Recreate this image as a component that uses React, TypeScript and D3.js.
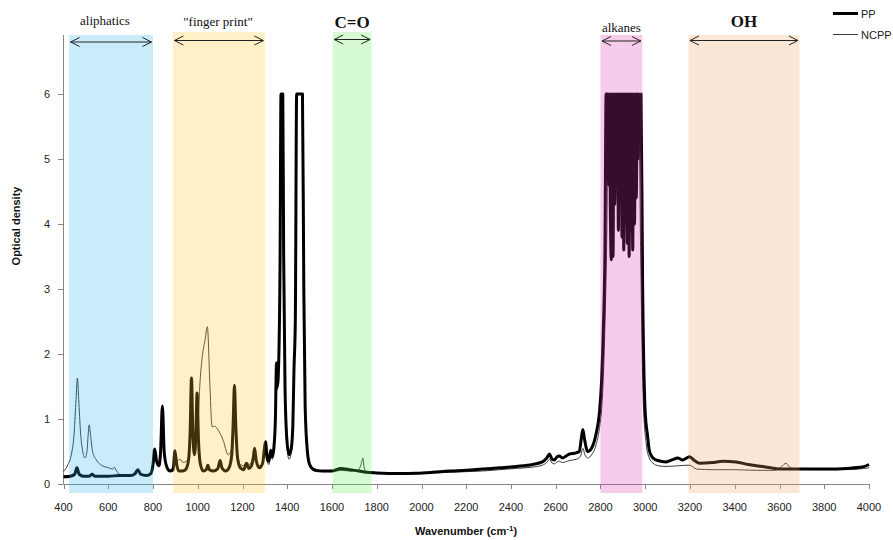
import * as d3 from "d3";
import { useEffect, useRef } from "react";

// wavenumber (cm-1), optical density
const ppSpectrum: [number, number][] = [
  [400, 0.11], [430, 0.12], [450, 0.15], [460, 0.25], [470, 0.15], [490, 0.12], [515, 0.12], [528, 0.15],
  [540, 0.12], [600, 0.12], [650, 0.13], [700, 0.13], [720, 0.16], [732, 0.22], [745, 0.15], [770, 0.13],
  [790, 0.16], [800, 0.3], [808, 0.54], [816, 0.35], [826, 0.28], [834, 0.5], [842, 1.2], [850, 0.5],
  [860, 0.28], [875, 0.2], [890, 0.22], [898, 0.51], [906, 0.3], [915, 0.2], [930, 0.2], [945, 0.22],
  [958, 0.35], [966, 0.8], [972, 1.63], [978, 0.8], [985, 0.45], [991, 0.7], [997, 1.4], [1003, 0.7],
  [1012, 0.3], [1025, 0.2], [1038, 0.22], [1045, 0.29], [1052, 0.22], [1070, 0.2], [1090, 0.24], [1100, 0.36],
  [1108, 0.25], [1125, 0.2], [1140, 0.25], [1152, 0.45], [1158, 0.9], [1164, 1.52], [1170, 0.9], [1178, 0.4],
  [1190, 0.25], [1205, 0.22], [1218, 0.32], [1228, 0.24], [1240, 0.28], [1248, 0.4], [1254, 0.55], [1262, 0.35],
  [1275, 0.25], [1290, 0.32], [1298, 0.55], [1303, 0.65], [1310, 0.4], [1318, 0.35], [1326, 0.52], [1333, 0.42],
  [1340, 0.55], [1347, 1.0], [1352, 1.86], [1356, 1.5], [1362, 1.9], [1368, 3.5], [1372, 6.0], [1380, 6.0],
  [1384, 3.5], [1390, 1.5], [1398, 0.7], [1408, 0.45], [1418, 0.55], [1425, 0.9], [1430, 1.75], [1436, 2.5],
  [1442, 6.0], [1468, 6.0], [1474, 3.0], [1480, 1.2], [1490, 0.5], [1500, 0.3], [1515, 0.23], [1530, 0.21],
  [1560, 0.2], [1600, 0.2], [1640, 0.24], [1680, 0.22], [1720, 0.2], [1753, 0.18], [1800, 0.17], [1900, 0.16],
  [1977, 0.165], [2050, 0.18], [2125, 0.2], [2200, 0.21], [2273, 0.23], [2350, 0.25], [2423, 0.27], [2497, 0.3],
  [2540, 0.34], [2560, 0.4], [2572, 0.46], [2584, 0.38], [2594, 0.37], [2606, 0.42], [2616, 0.43], [2630, 0.4],
  [2660, 0.46], [2691, 0.48], [2705, 0.5], [2715, 0.72], [2721, 0.84], [2728, 0.7], [2743, 0.5], [2760, 0.55],
  [2780, 0.77], [2795, 1.09], [2805, 1.6], [2812, 2.3], [2820, 3.65], [2825, 6.0],
  // saturated, noisy alkane band
  [2832, 6.0], [2836, 4.6], [2840, 6.0], [2844, 4.2], [2848, 3.45], [2852, 6.0], [2856, 3.5], [2860, 6.0],
  [2864, 4.3], [2868, 6.0], [2872, 4.8], [2876, 6.0], [2880, 3.9], [2884, 6.0], [2888, 4.4], [2892, 6.0],
  [2896, 3.8], [2900, 6.0], [2904, 3.6], [2908, 6.0], [2912, 4.0], [2916, 6.0], [2920, 3.7], [2924, 6.0],
  [2928, 3.5], [2932, 6.0], [2936, 3.9], [2940, 6.0], [2944, 3.6], [2948, 6.0], [2952, 4.0], [2956, 6.0],
  [2960, 4.4], [2964, 6.0], [2968, 5.0], [2972, 6.0], [2976, 5.5], [2981, 6.0],
  [2988, 3.14], [3000, 1.09], [3010, 0.75], [3018, 0.52], [3030, 0.42], [3048, 0.37], [3070, 0.35], [3093, 0.34],
  [3120, 0.37], [3145, 0.4], [3160, 0.38], [3168, 0.37], [3185, 0.4], [3198, 0.42], [3220, 0.36], [3243, 0.32],
  [3300, 0.33], [3347, 0.35], [3406, 0.34], [3460, 0.3], [3524, 0.27], [3560, 0.25], [3598, 0.23], [3650, 0.23],
  [3688, 0.23], [3750, 0.23], [3822, 0.23], [3900, 0.24], [3970, 0.26], [4000, 0.3],
];

const ncppSpectrum: [number, number][] = [
  [400, 0.19], [420, 0.3], [435, 0.45], [448, 0.8], [456, 1.3], [462, 1.63], [468, 1.3], [476, 0.8],
  [486, 0.5], [496, 0.4], [505, 0.5], [510, 0.75], [515, 0.91], [521, 0.75], [530, 0.5], [545, 0.38],
  [565, 0.3], [600, 0.25], [620, 0.23], [627, 0.26], [634, 0.22], [650, 0.15], [700, 0.13], [720, 0.15],
  [732, 0.2], [745, 0.14], [770, 0.13], [790, 0.15], [800, 0.27], [808, 0.5], [816, 0.33], [826, 0.27],
  [834, 0.48], [842, 1.15], [850, 0.48], [860, 0.27], [875, 0.22], [890, 0.28], [898, 0.45], [906, 0.35],
  [920, 0.38], [935, 0.33], [948, 0.35], [958, 0.4], [966, 0.8], [972, 1.6], [978, 0.8], [985, 0.55],
  [991, 0.8], [997, 1.38], [1003, 1.1], [1009, 1.5], [1021, 1.98], [1032, 2.2], [1043, 2.42], [1054, 1.55],
  [1064, 0.88], [1076, 0.89], [1091, 0.83], [1113, 0.68], [1136, 0.45], [1148, 0.5], [1158, 0.9], [1164, 1.48],
  [1170, 0.9], [1178, 0.45], [1190, 0.3], [1205, 0.28], [1218, 0.33], [1230, 0.3], [1245, 0.38], [1254, 0.5],
  [1262, 0.35], [1275, 0.28], [1290, 0.3], [1298, 0.5], [1303, 0.6], [1310, 0.35], [1318, 0.3], [1326, 0.45],
  [1333, 0.38], [1340, 0.5], [1347, 0.95], [1352, 1.8], [1356, 1.45], [1362, 1.85], [1368, 3.4], [1372, 6.0],
  [1380, 6.0], [1384, 3.4], [1390, 1.4], [1398, 0.6], [1408, 0.38], [1418, 0.48], [1425, 0.85], [1430, 1.7],
  [1436, 2.4], [1442, 6.0], [1468, 6.0], [1474, 2.9], [1480, 1.1], [1490, 0.45], [1500, 0.27], [1515, 0.21],
  [1530, 0.19], [1560, 0.19], [1600, 0.19], [1640, 0.21], [1680, 0.2], [1715, 0.21], [1730, 0.3], [1738, 0.4],
  [1744, 0.25], [1755, 0.18], [1800, 0.17], [1900, 0.16], [1977, 0.16], [2050, 0.17], [2125, 0.18], [2200, 0.19],
  [2273, 0.2], [2350, 0.22], [2423, 0.24], [2497, 0.26], [2540, 0.29], [2560, 0.33], [2572, 0.38], [2584, 0.32],
  [2594, 0.31], [2606, 0.34], [2616, 0.35], [2630, 0.33], [2660, 0.36], [2691, 0.38], [2710, 0.42], [2721, 0.55],
  [2730, 0.45], [2743, 0.4], [2760, 0.45], [2780, 0.6], [2795, 0.85], [2808, 1.3], [2818, 2.2], [2828, 3.8],
  [2836, 6.0], [2970, 6.0], [2980, 3.4], [2992, 1.2], [3005, 0.6], [3018, 0.4], [3035, 0.32], [3060, 0.28],
  [3093, 0.27], [3145, 0.28], [3198, 0.29], [3230, 0.23], [3300, 0.22], [3400, 0.22], [3500, 0.21], [3580, 0.21],
  [3610, 0.27], [3629, 0.32], [3645, 0.26], [3670, 0.23], [3750, 0.22], [3850, 0.22], [3950, 0.23], [4000, 0.25],
];

const xTicks = [400, 600, 800, 1000, 1200, 1400, 1600, 1800, 2000, 2200, 2400, 2600, 2800, 3000, 3200, 3400, 3600, 3800, 4000];
const yTicks = [0, 1, 2, 3, 4, 5, 6];

// assignment bands: label, from, to (cm-1)
const bandLabels = ["aliphatics", "\"finger print\"", "C=O", "alkanes", "OH"];
const bandFrom = [425, 889, 1603, 2800, 3193];
const bandTo = [800, 1300, 1777, 2987, 3689];
const bandColors = ["#27afeb", "#ffc323", "#5beb4b", "#df33af", "#ef9f57"];
const bandBold = [false, false, true, false, true];

const seriesNames = ["PP", "NCPP"];

const App = () => {
  const ref = useRef<SVGSVGElement>(null);

  useEffect(() => {
    const svg = d3.select(ref.current);
    svg.selectAll("*").remove();

    const x = d3.scaleLinear().domain([400, 4000]).range([63.5, 869]);
    const y = d3.scaleLinear().domain([0, 6.9]).range([484, 35.5]);
    const sans = "'Liberation Sans', Arial, sans-serif";
    const serif = "'Liberation Serif', 'Times New Roman', serif";

    const line = d3.line<[number, number]>()
      .x(d => x(d[0]))
      .y(d => y(d[1]))
      .curve(d3.curveMonotoneX);

    // axes
    svg.append("line").attr("x1", 63.5).attr("x2", 63.5).attr("y1", 35).attr("y2", 484)
      .attr("stroke", "#868686");
    svg.append("line").attr("x1", 63.5).attr("x2", 869).attr("y1", 484.5).attr("y2", 484.5)
      .attr("stroke", "#868686");

    svg.selectAll(".xt").data(xTicks).join("line")
      .attr("x1", d => Math.round(x(d)) + 0.5).attr("x2", d => Math.round(x(d)) + 0.5)
      .attr("y1", 484).attr("y2", 489).attr("stroke", "#868686");
    svg.selectAll(".xl").data(xTicks).join("text")
      .attr("x", d => x(d)).attr("y", 511)
      .attr("text-anchor", "middle").attr("font-family", sans).attr("font-size", 11).attr("fill", "#222")
      .text(d => d);

    svg.selectAll(".yt").data(yTicks).join("line")
      .attr("x1", 58).attr("x2", 63.5)
      .attr("y1", d => Math.round(y(d)) + 0.5).attr("y2", d => Math.round(y(d)) + 0.5)
      .attr("stroke", "#868686");
    svg.selectAll(".yl").data(yTicks).join("text")
      .attr("x", 50).attr("y", d => y(d) + 4)
      .attr("text-anchor", "end").attr("font-family", sans).attr("font-size", 11).attr("fill", "#222")
      .text(d => d);

    svg.append("text")
      .attr("transform", "translate(20,226) rotate(-90)")
      .attr("text-anchor", "middle").attr("font-family", sans).attr("font-size", 11)
      .attr("font-weight", "bold").attr("fill", "#111")
      .text("Optical density");

    const xTitle = svg.append("text")
      .attr("x", 466).attr("y", 535)
      .attr("text-anchor", "middle").attr("font-family", sans).attr("font-size", 11)
      .attr("font-weight", "bold").attr("fill", "#111");
    xTitle.append("tspan").text("Wavenumber (cm");
    xTitle.append("tspan").attr("dy", -4).attr("font-size", 8).text("-1");
    xTitle.append("tspan").attr("dy", 4).text(")");

    // spectra
    svg.append("path").datum(ncppSpectrum).attr("d", line)
      .attr("fill", "none").attr("stroke", "#3a3a3a").attr("stroke-width", 1);
    svg.append("path").datum(ppSpectrum).attr("d", line)
      .attr("fill", "none").attr("stroke", "#000").attr("stroke-width", 3)
      .attr("stroke-linejoin", "round");

    // translucent bands on top
    const bands = bandLabels.map((label, i) => ({
      label, from: bandFrom[i], to: bandTo[i], color: bandColors[i], bold: bandBold[i],
    }));
    svg.selectAll(".band").data(bands).join("rect")
      .attr("x", d => x(d.from)).attr("width", d => x(d.to) - x(d.from))
      .attr("y", (d, i) => (i === 1 || i === 2 ? 32 : 35))
      .attr("height", (d, i) => (i === 1 || i === 2 ? 461 : 458))
      .attr("fill", d => d.color).attr("opacity", 0.25);

    // double-headed arrows
    const arrowY = [42, 40.5, 39.5, 41, 40.5];
    bands.forEach((b, i) => {
      const x0 = x(b.from) + 1.5;
      const x1 = x(b.to) - 1.5;
      const ay = arrowY[i];
      const g = svg.append("g").attr("stroke", "#222").attr("stroke-width", 1).attr("fill", "none");
      g.append("line").attr("x1", x0).attr("x2", x1).attr("y1", ay).attr("y2", ay);
      g.append("polyline").attr("points", `${x0 + 9},${ay - 4.5} ${x0},${ay} ${x0 + 9},${ay + 4.5}`);
      g.append("polyline").attr("points", `${x1 - 9},${ay - 4.5} ${x1},${ay} ${x1 - 9},${ay + 4.5}`);
    });

    const labelY = [25, 26, 28, 32, 27];
    svg.selectAll(".blabel").data(bands).join("text")
      .attr("x", (d, i) => (i === 0 ? 105 : i === 1 ? 218 : (x(d.from) + x(d.to)) / 2))
      .attr("y", (d, i) => labelY[i])
      .attr("text-anchor", "middle").attr("font-family", serif)
      .attr("font-size", d => (d.bold ? 17 : 13))
      .attr("font-weight", d => (d.bold ? "bold" : "normal"))
      .attr("fill", "#111")
      .text(d => d.label);

    // legend
    const legend = svg.append("g");
    seriesNames.forEach((name, i) => {
      const ly = 13.5 + i * 21;
      legend.append("line").attr("x1", 833).attr("x2", 858).attr("y1", ly).attr("y2", ly)
        .attr("stroke", i === 0 ? "#000" : "#3a3a3a").attr("stroke-width", i === 0 ? 3 : 1);
      legend.append("text").attr("x", 861).attr("y", ly + 4)
        .attr("font-family", sans).attr("font-size", 11).attr("fill", "#222")
        .text(name);
    });
  }, []);

  return (
    <svg
      ref={ref}
      width={893}
      height={540}
      style={{ position: "absolute", left: 0, top: 0, background: "#fff", display: "block" }}
    />
  );
};

export default App;
